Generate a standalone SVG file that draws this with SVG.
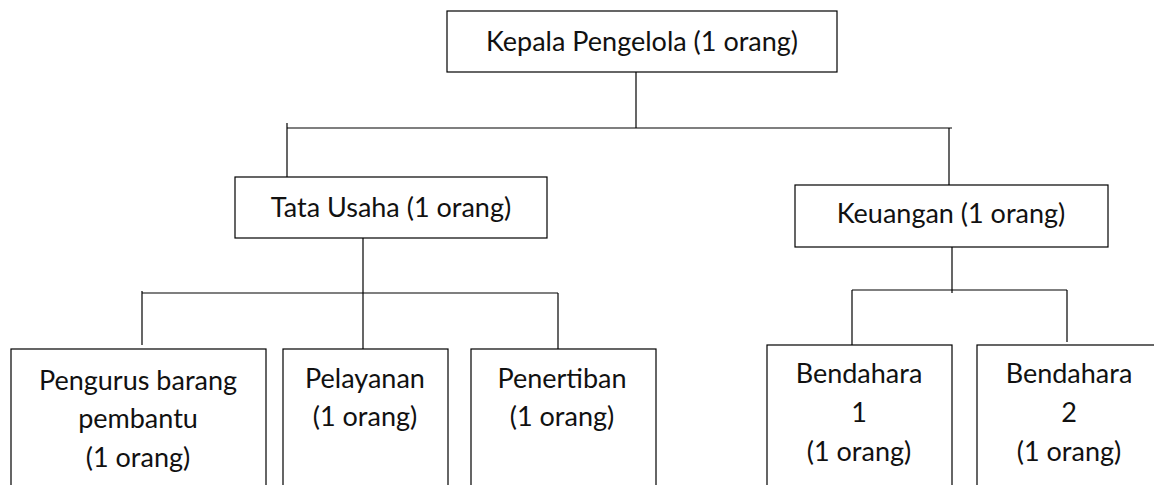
<svg xmlns="http://www.w3.org/2000/svg" width="1154" height="485" viewBox="0 0 1154 485">
<style>
.box{fill:#fff;stroke:#000;stroke-width:1.2}
.ln{stroke:#000;stroke-width:1.2;fill:none}
text{font-family:Lato,"Open Sans",sans-serif;font-size:27px;fill:#111;text-anchor:middle}
</style>
<rect width="1154" height="485" fill="#fff"/>
<g id="connectors">
<line class="ln" x1="636" y1="72" x2="636" y2="128"/>
<line class="ln" x1="287" y1="128" x2="952" y2="128"/>
<line class="ln" x1="287" y1="123" x2="287" y2="177"/>
<line class="ln" x1="949" y1="128" x2="949" y2="185"/>
<line class="ln" x1="363" y1="238" x2="363" y2="349"/>
<line class="ln" x1="142" y1="293" x2="558" y2="293"/>
<line class="ln" x1="142" y1="291" x2="142" y2="345"/>
<line class="ln" x1="558" y1="293" x2="558" y2="349"/>
<line class="ln" x1="952" y1="247" x2="952" y2="293"/>
<line class="ln" x1="852" y1="290" x2="1067" y2="290"/>
<line class="ln" x1="852" y1="290" x2="852" y2="345"/>
<line class="ln" x1="1067" y1="290" x2="1067" y2="342"/>
</g>
<g id="kepala">
<rect class="box" x="447" y="11" width="390" height="61"/>
<text x="642" y="51">Kepala Pengelola (1 orang)</text>
</g>
<g id="tatausaha">
<rect class="box" x="235" y="177" width="312" height="61"/>
<text x="391" y="217">Tata Usaha (1 orang)</text>
</g>
<g id="keuangan">
<rect class="box" x="795" y="185" width="313" height="62"/>
<text x="951" y="223">Keuangan (1 orang)</text>
</g>
<g id="pengurus">
<rect class="box" x="11" y="349" width="255" height="145"/>
<text x="138" y="390">Pengurus barang</text>
<text x="138" y="428">pembantu</text>
<text x="138" y="467">(1 orang)</text>
</g>
<g id="pelayanan">
<rect class="box" x="283" y="349" width="165" height="145"/>
<text x="365" y="388">Pelayanan</text>
<text x="365" y="426">(1 orang)</text>
</g>
<g id="penertiban">
<rect class="box" x="471" y="349" width="185" height="145"/>
<text x="562" y="388">Penertiban</text>
<text x="562" y="426">(1 orang)</text>
</g>
<g id="bendahara1">
<rect class="box" x="767" y="345" width="185" height="149"/>
<text x="859" y="383">Bendahara</text>
<text x="859" y="422">1</text>
<text x="859" y="461">(1 orang)</text>
</g>
<g id="bendahara2">
<rect class="box" x="977" y="345" width="184" height="149"/>
<text x="1069" y="383">Bendahara</text>
<text x="1069" y="422">2</text>
<text x="1069" y="461">(1 orang)</text>
</g>
</svg>
